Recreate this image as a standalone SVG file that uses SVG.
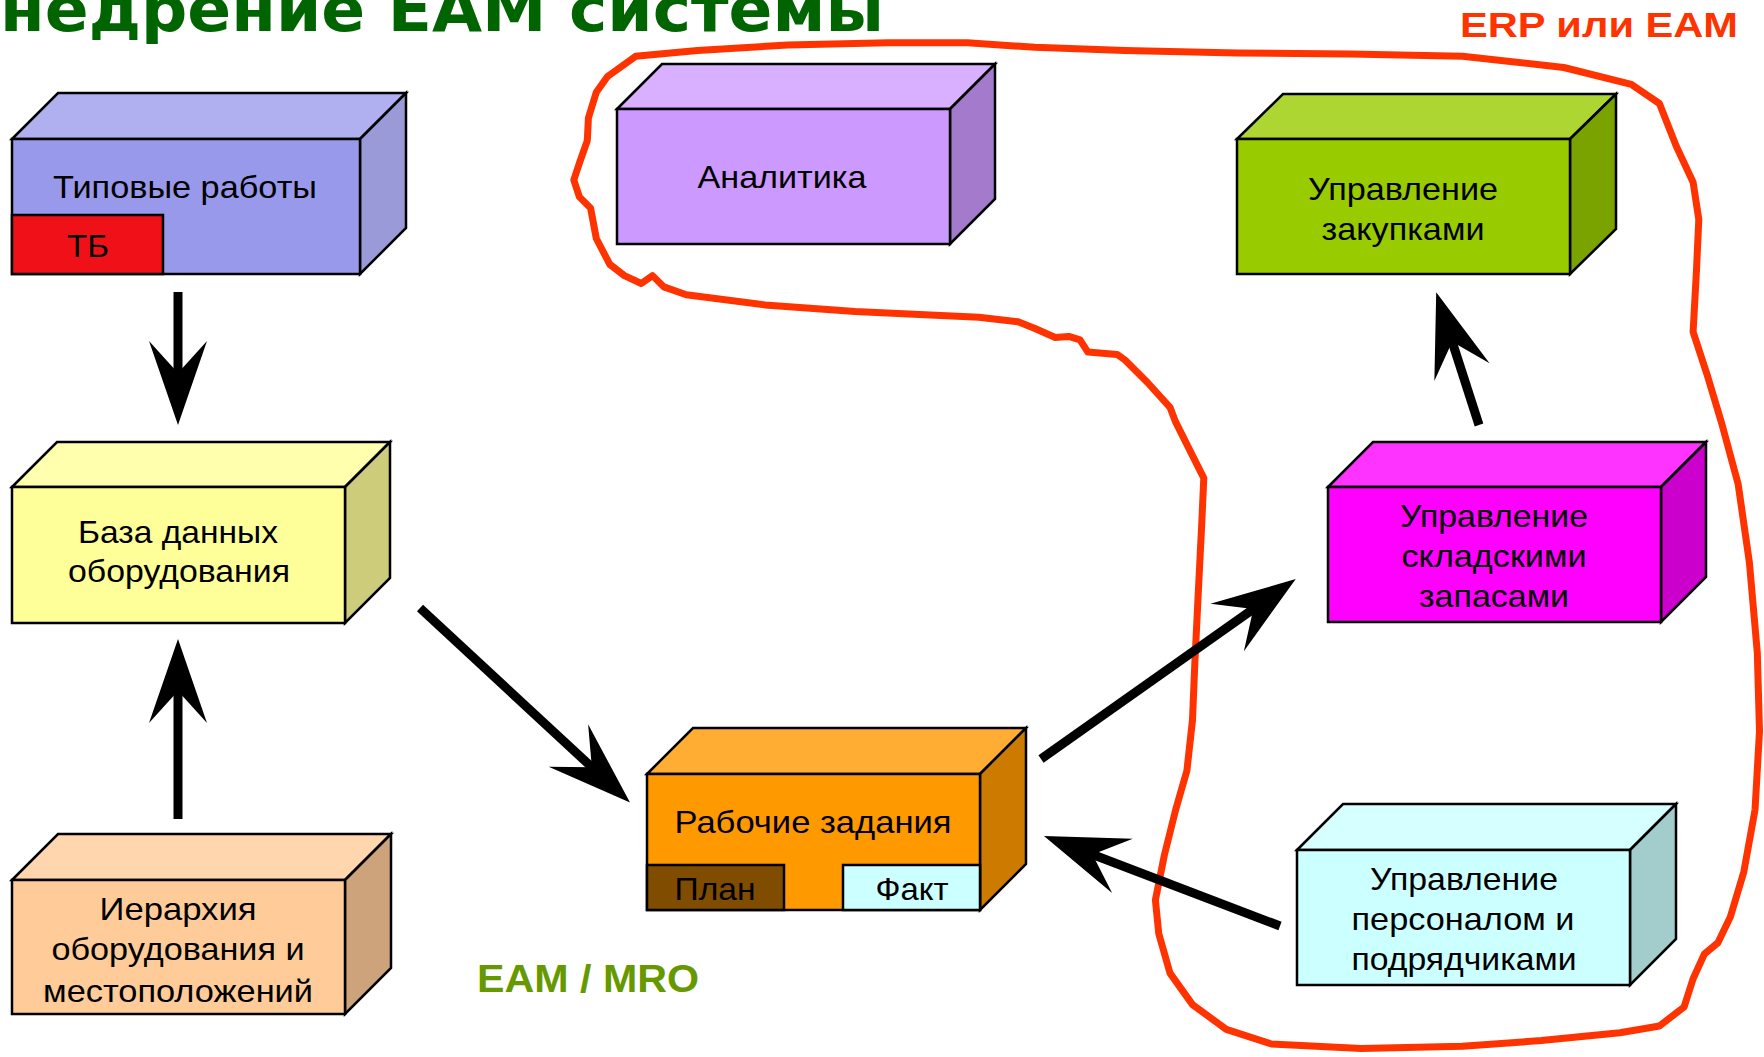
<svg xmlns="http://www.w3.org/2000/svg" width="1764" height="1057" viewBox="0 0 1764 1057">
<defs>
<style>
.f{stroke:#000;stroke-width:2.5;stroke-linejoin:miter}
.t{font-family:"Liberation Sans",Arial,sans-serif;font-size:32px;fill:#000;text-anchor:middle}
.a{stroke:#000;stroke-width:9;fill:none}
</style>
<marker id="ah" markerUnits="userSpaceOnUse" markerWidth="100" markerHeight="70" viewBox="-45 -35 100 70" refX="0" refY="0" orient="auto">
<path d="M45,0 L-39,-29 L-7,0 L-39,29 Z" fill="#000"/>
</marker>
</defs>
<rect width="1764" height="1057" fill="#fff"/>

<text x="0" y="31" font-family="DejaVu Sans,Verdana,sans-serif" font-weight="bold" font-size="62" fill="#006400" textLength="884" lengthAdjust="spacingAndGlyphs">недрение EAM системы</text>

<g id="erp-curve">
<path d="M607.5,76.5 L635.6,56.3 L697.5,50.6 L787.5,45 L888.8,42.8 L967.5,42.8 L1035,47.3 L1125,50.6 L1237.5,52.9 L1350,54 L1462.5,56.3 L1563.8,67.5 L1631.3,84.4 L1659.4,103.5 L1676.3,146.3 L1693.1,182.3 L1698.8,219.4 L1696.5,270 L1693.1,331.9 L1707.8,376.9 L1721.3,421.9 L1738.1,483.8 L1749.4,562.5 L1757.3,652.5 L1759.5,731.3 L1755,810 L1743.8,871.9 L1730.3,916.9 L1717.9,942.8 L1704.4,954 L1693.1,978.8 L1684.1,1006.9 L1659.4,1026 L1620,1032.8 L1541.3,1040.6 L1462.5,1046.3 L1361.3,1048.5 L1271.3,1044 L1226.3,1029.4 L1192.5,1004.6 L1170,973.1 L1158.8,933.8 L1155.4,900 L1164.4,855 L1175.6,810 L1186.9,770.6 L1192.5,720 L1194.8,663.8 L1198.1,596.3 L1201.5,528.8 L1203.8,478.1 L1192.5,455.6 L1175.6,421.9 L1170,407.3 L1147.5,382.5 L1125,360 L1117.1,354.4 L1087.9,352.1 L1080,339.8 L1068.8,336.4 L1055.3,337.5 L1035,328.5 L1018.1,321.8 L978.8,317.3 L855,311.6 L765,304.9 L686.3,294.8 L663.8,286.9 L652.5,275.6 L641.3,283.5 L624.4,275.6 L609.8,264.4 L596.3,238.5 L590.6,208.1 L579.4,196.9 L573.8,180 L579.4,163.1 L587.3,140.6 L588.4,118.1 L596.3,92.3 Z" fill="none" stroke="#FF3300" stroke-width="7" stroke-linejoin="round"/>
<text x="1599" y="37" font-family="Liberation Sans,Arial,sans-serif" font-weight="bold" font-size="35" fill="#FF3300" text-anchor="middle" textLength="278" lengthAdjust="spacingAndGlyphs">ERP или EAM</text>
</g>

<g id="node-typical">
<polygon class="f" fill="#B0B0F0" points="12,139 58,93 406,93 360,139"/>
<polygon class="f" fill="#9A9AD8" points="360,139 406,93 406,228 360,274"/>
<rect class="f" fill="#9999EB" x="12" y="139" width="348" height="135"/>
<rect class="f" fill="#F01018" x="12" y="215" width="151" height="59"/>
<text class="t" x="185" y="198" textLength="264" lengthAdjust="spacingAndGlyphs">Типовые работы</text>
<text class="t" x="88" y="257" textLength="42" lengthAdjust="spacingAndGlyphs">ТБ</text>
</g>

<g id="node-analytics">
<polygon class="f" fill="#D9AFFF" points="617,109 662,64 995,64 950,109"/>
<polygon class="f" fill="#A37ACC" points="950,109 995,64 995,199 950,244"/>
<rect class="f" fill="#CC99FF" x="617" y="109" width="333" height="135"/>
<text class="t" x="782" y="188" textLength="169" lengthAdjust="spacingAndGlyphs">Аналитика</text>
</g>

<g id="node-purchasing">
<polygon class="f" fill="#ADD633" points="1237,139 1283,94 1616,94 1570,139"/>
<polygon class="f" fill="#7AA300" points="1570,139 1616,94 1616,229 1570,274"/>
<rect class="f" fill="#99CC00" x="1237" y="139" width="333" height="135"/>
<text class="t" x="1403" y="200" textLength="190" lengthAdjust="spacingAndGlyphs">Управление</text>
<text class="t" x="1403" y="240" textLength="163" lengthAdjust="spacingAndGlyphs">закупками</text>
</g>

<g id="node-inventory">
<polygon class="f" fill="#FF33FF" points="1328,487 1373,442 1706,442 1661,487"/>
<polygon class="f" fill="#CC00CC" points="1661,487 1706,442 1706,577 1661,622"/>
<rect class="f" fill="#FF00FF" x="1328" y="487" width="333" height="135"/>
<text class="t" x="1494" y="527" textLength="188" lengthAdjust="spacingAndGlyphs">Управление</text>
<text class="t" x="1494" y="567" textLength="185" lengthAdjust="spacingAndGlyphs">складскими</text>
<text class="t" x="1494" y="607" textLength="150" lengthAdjust="spacingAndGlyphs">запасами</text>
</g>

<g id="node-equipment-db">
<polygon class="f" fill="#FFFFAD" points="12,487 57,442 390,442 345,487"/>
<polygon class="f" fill="#CCCC7A" points="345,487 390,442 390,578 345,623"/>
<rect class="f" fill="#FFFF99" x="12" y="487" width="333" height="136"/>
<text class="t" x="178" y="543" textLength="200" lengthAdjust="spacingAndGlyphs">База данных</text>
<text class="t" x="179" y="582" textLength="222" lengthAdjust="spacingAndGlyphs">оборудования</text>
</g>

<g id="node-hierarchy">
<polygon class="f" fill="#FFD6AD" points="12,880 58,834 391,834 345,880"/>
<polygon class="f" fill="#CCA37A" points="345,880 391,834 391,968 345,1014"/>
<rect class="f" fill="#FFCC99" x="12" y="880" width="333" height="134"/>
<text class="t" x="178" y="920" textLength="157" lengthAdjust="spacingAndGlyphs">Иерархия</text>
<text class="t" x="178" y="960" textLength="253" lengthAdjust="spacingAndGlyphs">оборудования и</text>
<text class="t" x="178" y="1002" textLength="270" lengthAdjust="spacingAndGlyphs">местоположений</text>
</g>

<g id="node-work-orders">
<polygon class="f" fill="#FFAD33" points="647,774 693,728 1026,728 980,774"/>
<polygon class="f" fill="#CC7A00" points="980,774 1026,728 1026,864 980,910"/>
<rect class="f" fill="#FF9900" x="647" y="774" width="333" height="136"/>
<rect class="f" fill="#804C00" x="647" y="865" width="137" height="45"/>
<rect class="f" fill="#CCFFFF" x="843" y="865" width="137" height="45"/>
<text class="t" x="813" y="833" textLength="277" lengthAdjust="spacingAndGlyphs">Рабочие задания</text>
<text class="t" x="715" y="900" textLength="81" lengthAdjust="spacingAndGlyphs">План</text>
<text class="t" x="912" y="900" textLength="73" lengthAdjust="spacingAndGlyphs">Факт</text>
</g>

<g id="node-personnel">
<polygon class="f" fill="#D6FFFF" points="1297,850 1343,804 1676,804 1630,850"/>
<polygon class="f" fill="#A3CCCC" points="1630,850 1676,804 1676,939 1630,985"/>
<rect class="f" fill="#CCFFFF" x="1297" y="850" width="333" height="135"/>
<text class="t" x="1464" y="890" textLength="188" lengthAdjust="spacingAndGlyphs">Управление</text>
<text class="t" x="1463" y="930" textLength="223" lengthAdjust="spacingAndGlyphs">персоналом и</text>
<text class="t" x="1464" y="970" textLength="225" lengthAdjust="spacingAndGlyphs">подрядчиками</text>
</g>

<text x="588" y="992" font-family="Liberation Sans,Arial,sans-serif" font-weight="bold" font-size="39" fill="#669900" text-anchor="middle" textLength="222" lengthAdjust="spacingAndGlyphs">EAM / MRO</text>

<g id="connectors">
<line class="a" x1="178" y1="292" x2="178" y2="380" marker-end="url(#ah)"/>
<line class="a" x1="178" y1="819" x2="178" y2="684" marker-end="url(#ah)"/>
<line class="a" x1="420" y1="608" x2="597" y2="772" marker-end="url(#ah)"/>
<line class="a" x1="1041" y1="759" x2="1259" y2="605" marker-end="url(#ah)"/>
<line class="a" x1="1280" y1="926" x2="1086" y2="852" marker-end="url(#ah)"/>
<line class="a" x1="1479" y1="425" x2="1450" y2="335" marker-end="url(#ah)"/>
</g>
</svg>
